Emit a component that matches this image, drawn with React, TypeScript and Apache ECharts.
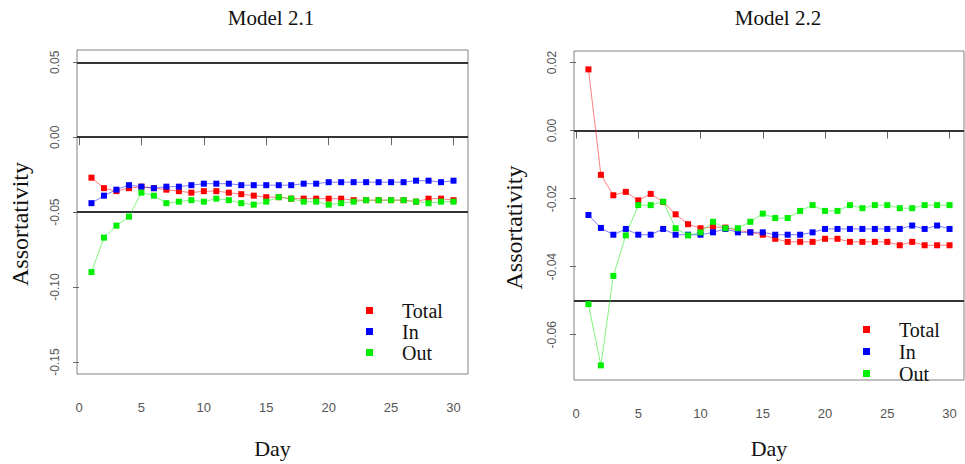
import React, { useEffect, useRef } from "react";
import * as echarts from "echarts";

const days = [1, 2, 3, 4, 5, 6, 7, 8, 9, 10, 11, 12, 13, 14, 15, 16, 17, 18, 19, 20, 21, 22, 23, 24, 25, 26, 27, 28, 29, 30];

const m21Total = [-0.027, -0.034, -0.036, -0.034, -0.033, -0.034, -0.035, -0.036, -0.037, -0.036, -0.036, -0.037, -0.038, -0.039, -0.040, -0.040, -0.041, -0.041, -0.041, -0.041, -0.041, -0.042, -0.042, -0.042, -0.042, -0.042, -0.043, -0.041, -0.041, -0.042];
const m21In = [-0.044, -0.039, -0.035, -0.032, -0.033, -0.034, -0.033, -0.033, -0.032, -0.031, -0.031, -0.031, -0.032, -0.032, -0.032, -0.032, -0.032, -0.031, -0.031, -0.030, -0.030, -0.030, -0.030, -0.030, -0.030, -0.030, -0.029, -0.029, -0.030, -0.029];
const m21Out = [-0.090, -0.067, -0.059, -0.053, -0.037, -0.039, -0.044, -0.043, -0.042, -0.043, -0.041, -0.042, -0.044, -0.045, -0.043, -0.040, -0.041, -0.043, -0.043, -0.045, -0.044, -0.043, -0.042, -0.042, -0.042, -0.042, -0.043, -0.044, -0.043, -0.043];

const m22Total = [0.018, -0.013, -0.019, -0.018, -0.0205, -0.0186, -0.021, -0.0246, -0.0275, -0.0287, -0.0283, -0.0285, -0.0293, -0.0299, -0.0306, -0.0318, -0.0327, -0.0327, -0.0327, -0.0318, -0.0318, -0.0327, -0.0327, -0.0327, -0.0327, -0.0337, -0.0327, -0.0337, -0.0337, -0.0337];
const m22In = [-0.0248, -0.0286, -0.0306, -0.0289, -0.0306, -0.0306, -0.0289, -0.0306, -0.0306, -0.0306, -0.0299, -0.0289, -0.0299, -0.0299, -0.0299, -0.0306, -0.0306, -0.0306, -0.0299, -0.0289, -0.0289, -0.0289, -0.0289, -0.0289, -0.0289, -0.0289, -0.0279, -0.0289, -0.0279, -0.0289];
const m22Out = [-0.051, -0.069, -0.0427, -0.0308, -0.0219, -0.0219, -0.0209, -0.0287, -0.0308, -0.0299, -0.0268, -0.0287, -0.0287, -0.0268, -0.0244, -0.0257, -0.0257, -0.0236, -0.0219, -0.0236, -0.0236, -0.0219, -0.0228, -0.0219, -0.0219, -0.0228, -0.0228, -0.0219, -0.0219, -0.0219];

const xTicks = [0, 5, 10, 15, 20, 25, 30];
const y21Ticks = [-0.15, -0.1, -0.05, 0, 0.05];
const y22Ticks = [-0.06, -0.04, -0.02, 0, 0.02];
const ref21 = [0.05, 0, -0.05];
const ref22 = [0, -0.05];

const seriesNames = ["Total", "In", "Out"];
const seriesColors = ["#ff0000", "#0000ff", "#00ee00"];

const SERIF = "'Liberation Serif', 'DejaVu Serif', serif";
const SANS = "'Liberation Sans', Arial, sans-serif";

function fmt(v: number) {
  const s = v.toFixed(2);
  return s === "-0.00" ? "0.00" : s;
}

export default function App() {
  const ref = useRef<HTMLDivElement>(null);
  useEffect(() => {
    document.body.style.margin = "0";
    if (!ref.current) return;
    const chart = echarts.init(ref.current, null, { renderer: "svg" });

    const panels = [
      { data: [m21Total, m21In, m21Out], refs: ref21 },
      { data: [m22Total, m22In, m22Out], refs: ref22 },
    ];

    const series: any[] = [];
    panels.forEach((p, gi) => {
      p.data.forEach((vals, si) => {
        series.push({
          name: seriesNames[si],
          type: "line",
          xAxisIndex: gi,
          yAxisIndex: gi,
          data: days.map((d, i) => [d, vals[i]]),
          symbol: "rect",
          symbolSize: 6,
          showSymbol: true,
          itemStyle: { color: seriesColors[si] },
          lineStyle: { color: seriesColors[si], width: 1, opacity: 0.5 },
          z: 3,
          markLine:
            si === 0
              ? {
                  silent: true,
                  symbol: "none",
                  label: { show: false },
                  lineStyle: { color: "#333", width: 2, type: "solid" },
                  data: p.refs.map((v) => ({ yAxis: v })),
                  z: 1,
                }
              : undefined,
        });
      });
    });

    const xAxisBase = (gi: number, gap: number) => ({
      type: "value",
      gridIndex: gi,
      min: -0.16,
      max: 31.16,
      name: "Day",
      nameLocation: "middle",
      nameGap: gap,
      nameTextStyle: { fontFamily: SERIF, fontSize: 22, color: "#111" },
      splitLine: { show: false },
      axisLine: { show: false },
      axisTick: { show: true, length: 8, customValues: xTicks, lineStyle: { color: "#666" } },
      axisLabel: {
        customValues: xTicks,
        margin: 27,
        fontFamily: SANS,
        fontSize: 13,
        color: "#555",
      },
    });

    const yAxisBase = (gi: number, min: number, max: number, ticks: number[], gap: number) => ({
      type: "value",
      gridIndex: gi,
      min,
      max,
      name: "Assortativity",
      nameLocation: "middle",
      nameRotate: 90,
      nameGap: gap,
      nameTextStyle: { fontFamily: SERIF, fontSize: 24, color: "#111", padding: [0, 24, 0, 0] },
      splitLine: { show: false },
      axisLine: { show: false },
      axisTick: { show: true, length: 6, customValues: ticks, lineStyle: { color: "#666" } },
      axisLabel: {
        customValues: ticks,
        rotate: 90,
        margin: 16,
        fontFamily: SANS,
        fontSize: 12,
        color: "#555",
        formatter: (v: number) => fmt(v),
      },
    });

    const legendText = {
      fontFamily: SERIF,
      fontSize: 20,
      lineHeight: 21,
      color: "#111",
      padding: [0, 0, 0, 24],
    };

    chart.setOption({
      animation: false,
      backgroundColor: "#fff",
      title: [
        {
          text: "Model 2.1",
          left: 266,
          top: 2,
          textAlign: "center",
          textStyle: { fontFamily: SERIF, fontSize: 21, fontWeight: "normal", color: "#111" },
        },
        {
          text: "Model 2.2",
          left: 773,
          top: 2,
          textAlign: "center",
          textStyle: { fontFamily: SERIF, fontSize: 21, fontWeight: "normal", color: "#111" },
        },
      ],
      legend: [
        {
          data: seriesNames,
          orient: "vertical",
          left: 361,
          top: 295,
          icon: "rect",
          itemWidth: 7,
          itemHeight: 7,
          itemGap: 0,
          selectedMode: false,
          textStyle: legendText,
        },
        {
          data: seriesNames,
          orient: "vertical",
          left: 858,
          top: 314,
          icon: "rect",
          itemWidth: 7,
          itemHeight: 7,
          itemGap: 1,
          selectedMode: false,
          textStyle: legendText,
        },
      ],
      grid: [
        { left: 77, top: 50, width: 391, height: 335, show: true, borderColor: "#808080", borderWidth: 1, backgroundColor: "transparent" },
        { left: 574, top: 51, width: 390, height: 334, show: true, borderColor: "#808080", borderWidth: 1, backgroundColor: "transparent" },
      ],
      xAxis: [xAxisBase(0, 63), xAxisBase(1, 57)],
      yAxis: [
        yAxisBase(0, -0.158, 0.0582, y21Ticks, 45),
        yAxisBase(1, -0.0733, 0.0234, y22Ticks, 48),
      ],
      series,
    });
    return () => chart.dispose();
  }, []);
  return <div ref={ref} style={{ width: 965, height: 464 }} />;
}
